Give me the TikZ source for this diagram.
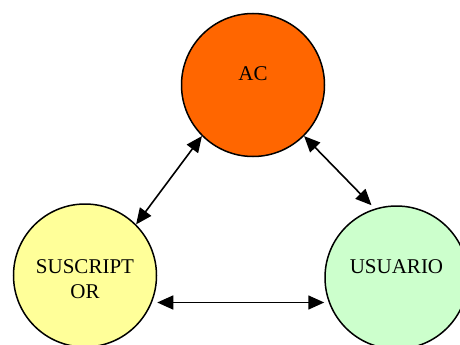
\documentclass[tikz,border=0pt]{standalone}
\usepackage{fontspec}
\setmainfont{Liberation Serif}
\usetikzlibrary{arrows.meta}
\tikzset{>={Triangle[length=16pt,width=14pt]}}
\definecolor{acorange}{HTML}{FF6600}
\definecolor{susyellow}{HTML}{FFFF99}
\definecolor{usugreen}{HTML}{CCFFCC}
\tikzset{
	entity/.style={circle, draw=black, line width=1.5pt, minimum size=143pt, inner sep=0pt},
	link/.style={<->, line width=1.6pt}
}

\begin{document}
\begin{tikzpicture}[x=1pt,y=-1pt,font=\fontsize{21}{25}\selectfont]
	\useasboundingbox (0,0) rectangle (460,345);
	\clip (0,0) rectangle (460,345);
	
	% Entities, placed at pixel coordinates of the sketch
	\node[entity, fill=acorange, label={[yshift=11pt]center:AC}] (ac) at (253,85) {}; %authority
	\node[entity, fill=susyellow, label={[yshift=-4pt,align=center]center:SUSCRIPT\\OR}] (sus) at (85,275.5) {}; %subscriber
	\node[entity, fill=usugreen, label={[yshift=10.5pt]center:USUARIO}] (usu) at (396.5,277.5) {}; %user
	
	% Drawing the links
	\draw[link] (ac.225) -- (sus.45);
	\draw[link] (ac.-45) -- ([xshift=-25pt]usu.north);
	\draw[link] ([yshift=-27pt]sus.east) -- ([yshift=-25pt]usu.west);
	
\end{tikzpicture}
\end{document}
